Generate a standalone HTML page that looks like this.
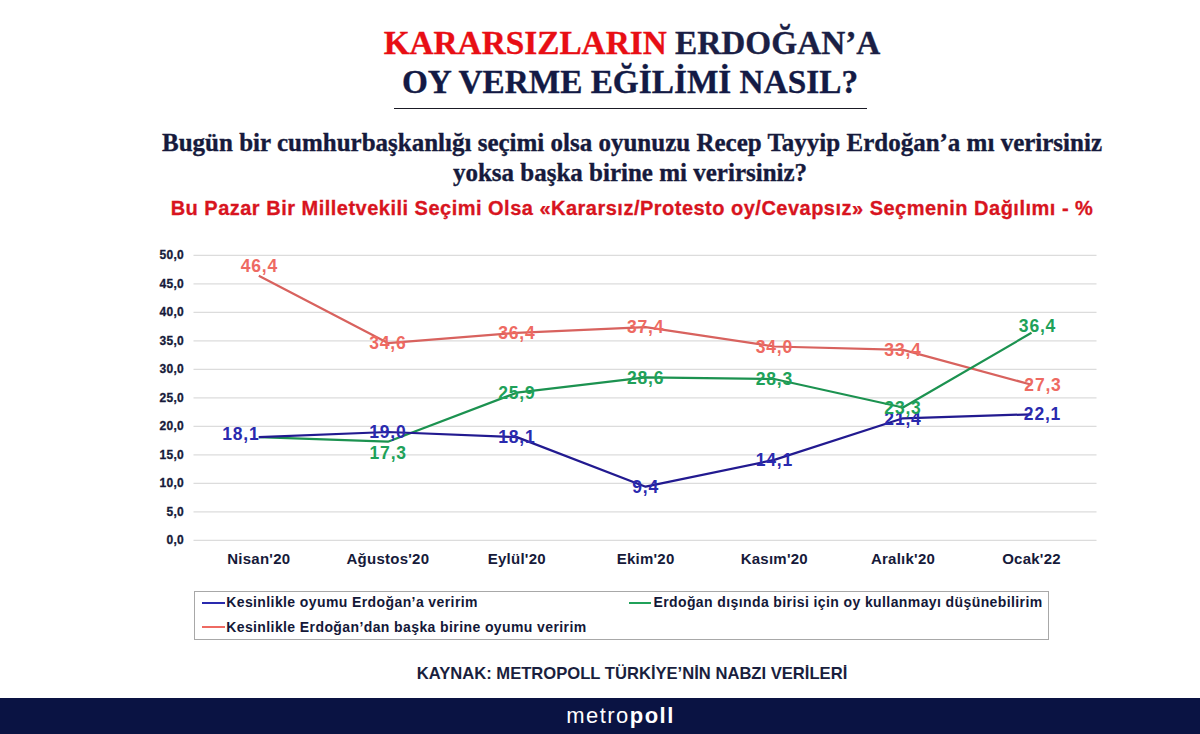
<!DOCTYPE html>
<html><head><meta charset="utf-8"><style>
html,body{margin:0;padding:0;background:#fff;}
body{width:1200px;height:734px;position:relative;overflow:hidden;}
.abs{position:absolute;white-space:nowrap;}
.serif{font-family:"Liberation Serif",serif;font-weight:bold;-webkit-text-stroke:0.35px currentColor;}
.sans{font-family:"Liberation Sans",sans-serif;font-weight:bold;}
#t1{left:0;width:1264px;text-align:center;top:23px;font-size:33.3px;line-height:40px;color:#1B1F45;}
#t1 .r{color:#E80E14;-webkit-text-stroke:0.35px #E80E14;}
#t2{left:0;width:1260px;text-align:center;top:61.5px;font-size:33.3px;line-height:40px;color:#131A45;}
#ul{left:394px;top:107.8px;width:472.5px;height:1.5px;background:#1a1a24;}
#q1{left:0;width:1264px;text-align:center;top:128px;font-size:25px;line-height:30px;color:#161A3C;}
#q2{left:0;width:1260px;text-align:center;top:158px;font-size:25px;line-height:30px;color:#161A3C;}
#sub{left:0;width:1264px;text-align:center;top:196px;font-size:20px;line-height:24px;color:#D8141E;letter-spacing:0.49px;-webkit-text-stroke:0.3px #D8141E;}
svg{position:absolute;left:0;top:0;}
.legend{position:absolute;left:193.5px;top:590.5px;width:853px;height:47.5px;border:1.2px solid #a8a8a8;}
.lg{font-size:14px;color:#141838;letter-spacing:0.4px;}
.sw{position:absolute;height:2.4px;}
#src{left:0;width:1264px;text-align:center;top:664px;font-size:16.6px;line-height:20px;color:#1A1F3E;}
#bar{position:absolute;left:0;top:697.5px;width:1200px;height:37px;background:#0A1343;}
#logo{left:0;width:1241px;text-align:center;top:703px;font-family:"Liberation Sans",sans-serif;font-size:22px;line-height:26px;color:#fff;letter-spacing:1.45px;}
#logo b{font-weight:bold;}
</style></head><body>
<div id="t1" class="abs serif"><span class="r">KARARSIZLARIN</span> ERDOĞAN’A</div>
<div id="t2" class="abs serif">OY VERME EĞİLİMİ NASIL?</div>
<div id="ul" class="abs"></div>
<div id="q1" class="abs serif">Bugün bir cumhurbaşkanlığı seçimi olsa oyunuzu Recep Tayyip Erdoğan’a mı verirsiniz</div>
<div id="q2" class="abs serif">yoksa başka birine mi verirsiniz?</div>
<div id="sub" class="abs sans">Bu Pazar Bir Milletvekili Seçimi Olsa «Kararsız/Protesto oy/Cevapsız» Seçmenin Dağılımı - %</div>
<svg width="1200" height="734" viewBox="0 0 1200 734">
<g stroke="#dcdcdc" stroke-width="1.2"><line x1="193.5" y1="540.3" x2="1096.5" y2="540.3"/><line x1="193.5" y1="511.8" x2="1096.5" y2="511.8"/><line x1="193.5" y1="483.3" x2="1096.5" y2="483.3"/><line x1="193.5" y1="454.8" x2="1096.5" y2="454.8"/><line x1="193.5" y1="426.3" x2="1096.5" y2="426.3"/><line x1="193.5" y1="397.8" x2="1096.5" y2="397.8"/><line x1="193.5" y1="369.3" x2="1096.5" y2="369.3"/><line x1="193.5" y1="340.8" x2="1096.5" y2="340.8"/><line x1="193.5" y1="312.3" x2="1096.5" y2="312.3"/><line x1="193.5" y1="283.8" x2="1096.5" y2="283.8"/><line x1="193.5" y1="255.3" x2="1096.5" y2="255.3"/></g>
<g font-family="Liberation Sans" font-weight="bold" font-size="12" fill="#161A3A" text-anchor="end" letter-spacing="0.3" stroke="#161A3A" stroke-width="0.3"><text x="184" y="544.2">0,0</text><text x="184" y="515.7">5,0</text><text x="184" y="487.2">10,0</text><text x="184" y="458.7">15,0</text><text x="184" y="430.2">20,0</text><text x="184" y="401.7">25,0</text><text x="184" y="373.2">30,0</text><text x="184" y="344.7">35,0</text><text x="184" y="316.2">40,0</text><text x="184" y="287.7">45,0</text><text x="184" y="259.2">50,0</text></g>
<g font-family="Liberation Sans" font-weight="bold" font-size="15" fill="#161A3A" text-anchor="middle" letter-spacing="0.25"><text x="258.8" y="563.7">Nisan'20</text><text x="387.9" y="563.7">Ağustos'20</text><text x="516.8" y="563.7">Eylül'20</text><text x="645.6" y="563.7">Ekim'20</text><text x="774.3" y="563.7">Kasım'20</text><text x="903.0" y="563.7">Aralık'20</text><text x="1031.5" y="563.7">Ocak'22</text></g>
<g fill="none" stroke-width="2.2" stroke-linejoin="round">
<polyline points="258.8,275.8 387.9,343.1 516.8,332.8 645.6,327.1 774.3,346.5 903.0,349.9 1031.5,384.7" stroke="#D8625E"/>
<polyline points="258.8,437.1 387.9,441.7 516.8,392.7 645.6,377.3 774.3,379.0 903.0,407.5 1031.5,332.8" stroke="#1C9250"/>
<polyline points="258.8,437.1 387.9,432.0 516.8,437.1 645.6,486.7 774.3,459.9 903.0,418.3 1031.5,414.3" stroke="#221A90"/>
</g>
<g font-family="Liberation Sans" font-weight="bold" font-size="17.5" text-anchor="middle" letter-spacing="0.8"><text x="240.8" y="439.7" fill="#2A2AAE">18,1</text><text x="387.9" y="438.2" fill="#2A2AAE">19,0</text><text x="516.8" y="443.3" fill="#2A2AAE">18,1</text><text x="645.6" y="492.9" fill="#2A2AAE">9,4</text><text x="774.3" y="466.1" fill="#2A2AAE">14,1</text><text x="903.0" y="424.5" fill="#2A2AAE">21,4</text><text x="1042.5" y="420.3" fill="#2A2AAE">22,1</text><text x="388.2" y="458.6" fill="#20A159">17,3</text><text x="516.8" y="398.9" fill="#20A159">25,9</text><text x="645.6" y="383.5" fill="#20A159">28,6</text><text x="774.3" y="385.2" fill="#20A159">28,3</text><text x="903.0" y="413.7" fill="#20A159">23,3</text><text x="1037.5" y="332.3" fill="#20A159">36,4</text><text x="259.3" y="272.1" fill="#EE6A62">46,4</text><text x="387.9" y="349.3" fill="#EE6A62">34,6</text><text x="516.8" y="339.0" fill="#EE6A62">36,4</text><text x="645.6" y="333.3" fill="#EE6A62">37,4</text><text x="774.3" y="352.7" fill="#EE6A62">34,0</text><text x="903.0" y="356.1" fill="#EE6A62">33,4</text><text x="1043.0" y="390.5" fill="#EE6A62">27,3</text></g>
</svg>
<div class="legend"></div>
<div class="sw" style="left:202px;top:601.8px;width:22.5px;background:#2A2AAE;"></div>
<div class="sw" style="left:629.4px;top:601.5px;width:21.6px;background:#20A159;"></div>
<div class="sw" style="left:202px;top:625.6px;width:22.5px;background:#EE6A62;"></div>
<div class="abs sans lg" style="left:226.2px;top:594px;">Kesinlikle oyumu Erdoğan’a veririm</div>
<div class="abs sans lg" style="left:653.4px;top:594px;">Erdoğan dışında birisi için oy kullanmayı düşünebilirim</div>
<div class="abs sans lg" style="left:226.2px;top:619px;">Kesinlikle Erdoğan’dan başka birine oyumu veririm</div>
<div id="src" class="abs sans">KAYNAK: METROPOLL TÜRKİYE’NİN NABZI VERİLERİ</div>
<div id="bar"></div>
<div id="logo" class="abs">metro<b>poll</b></div>
</body></html>
